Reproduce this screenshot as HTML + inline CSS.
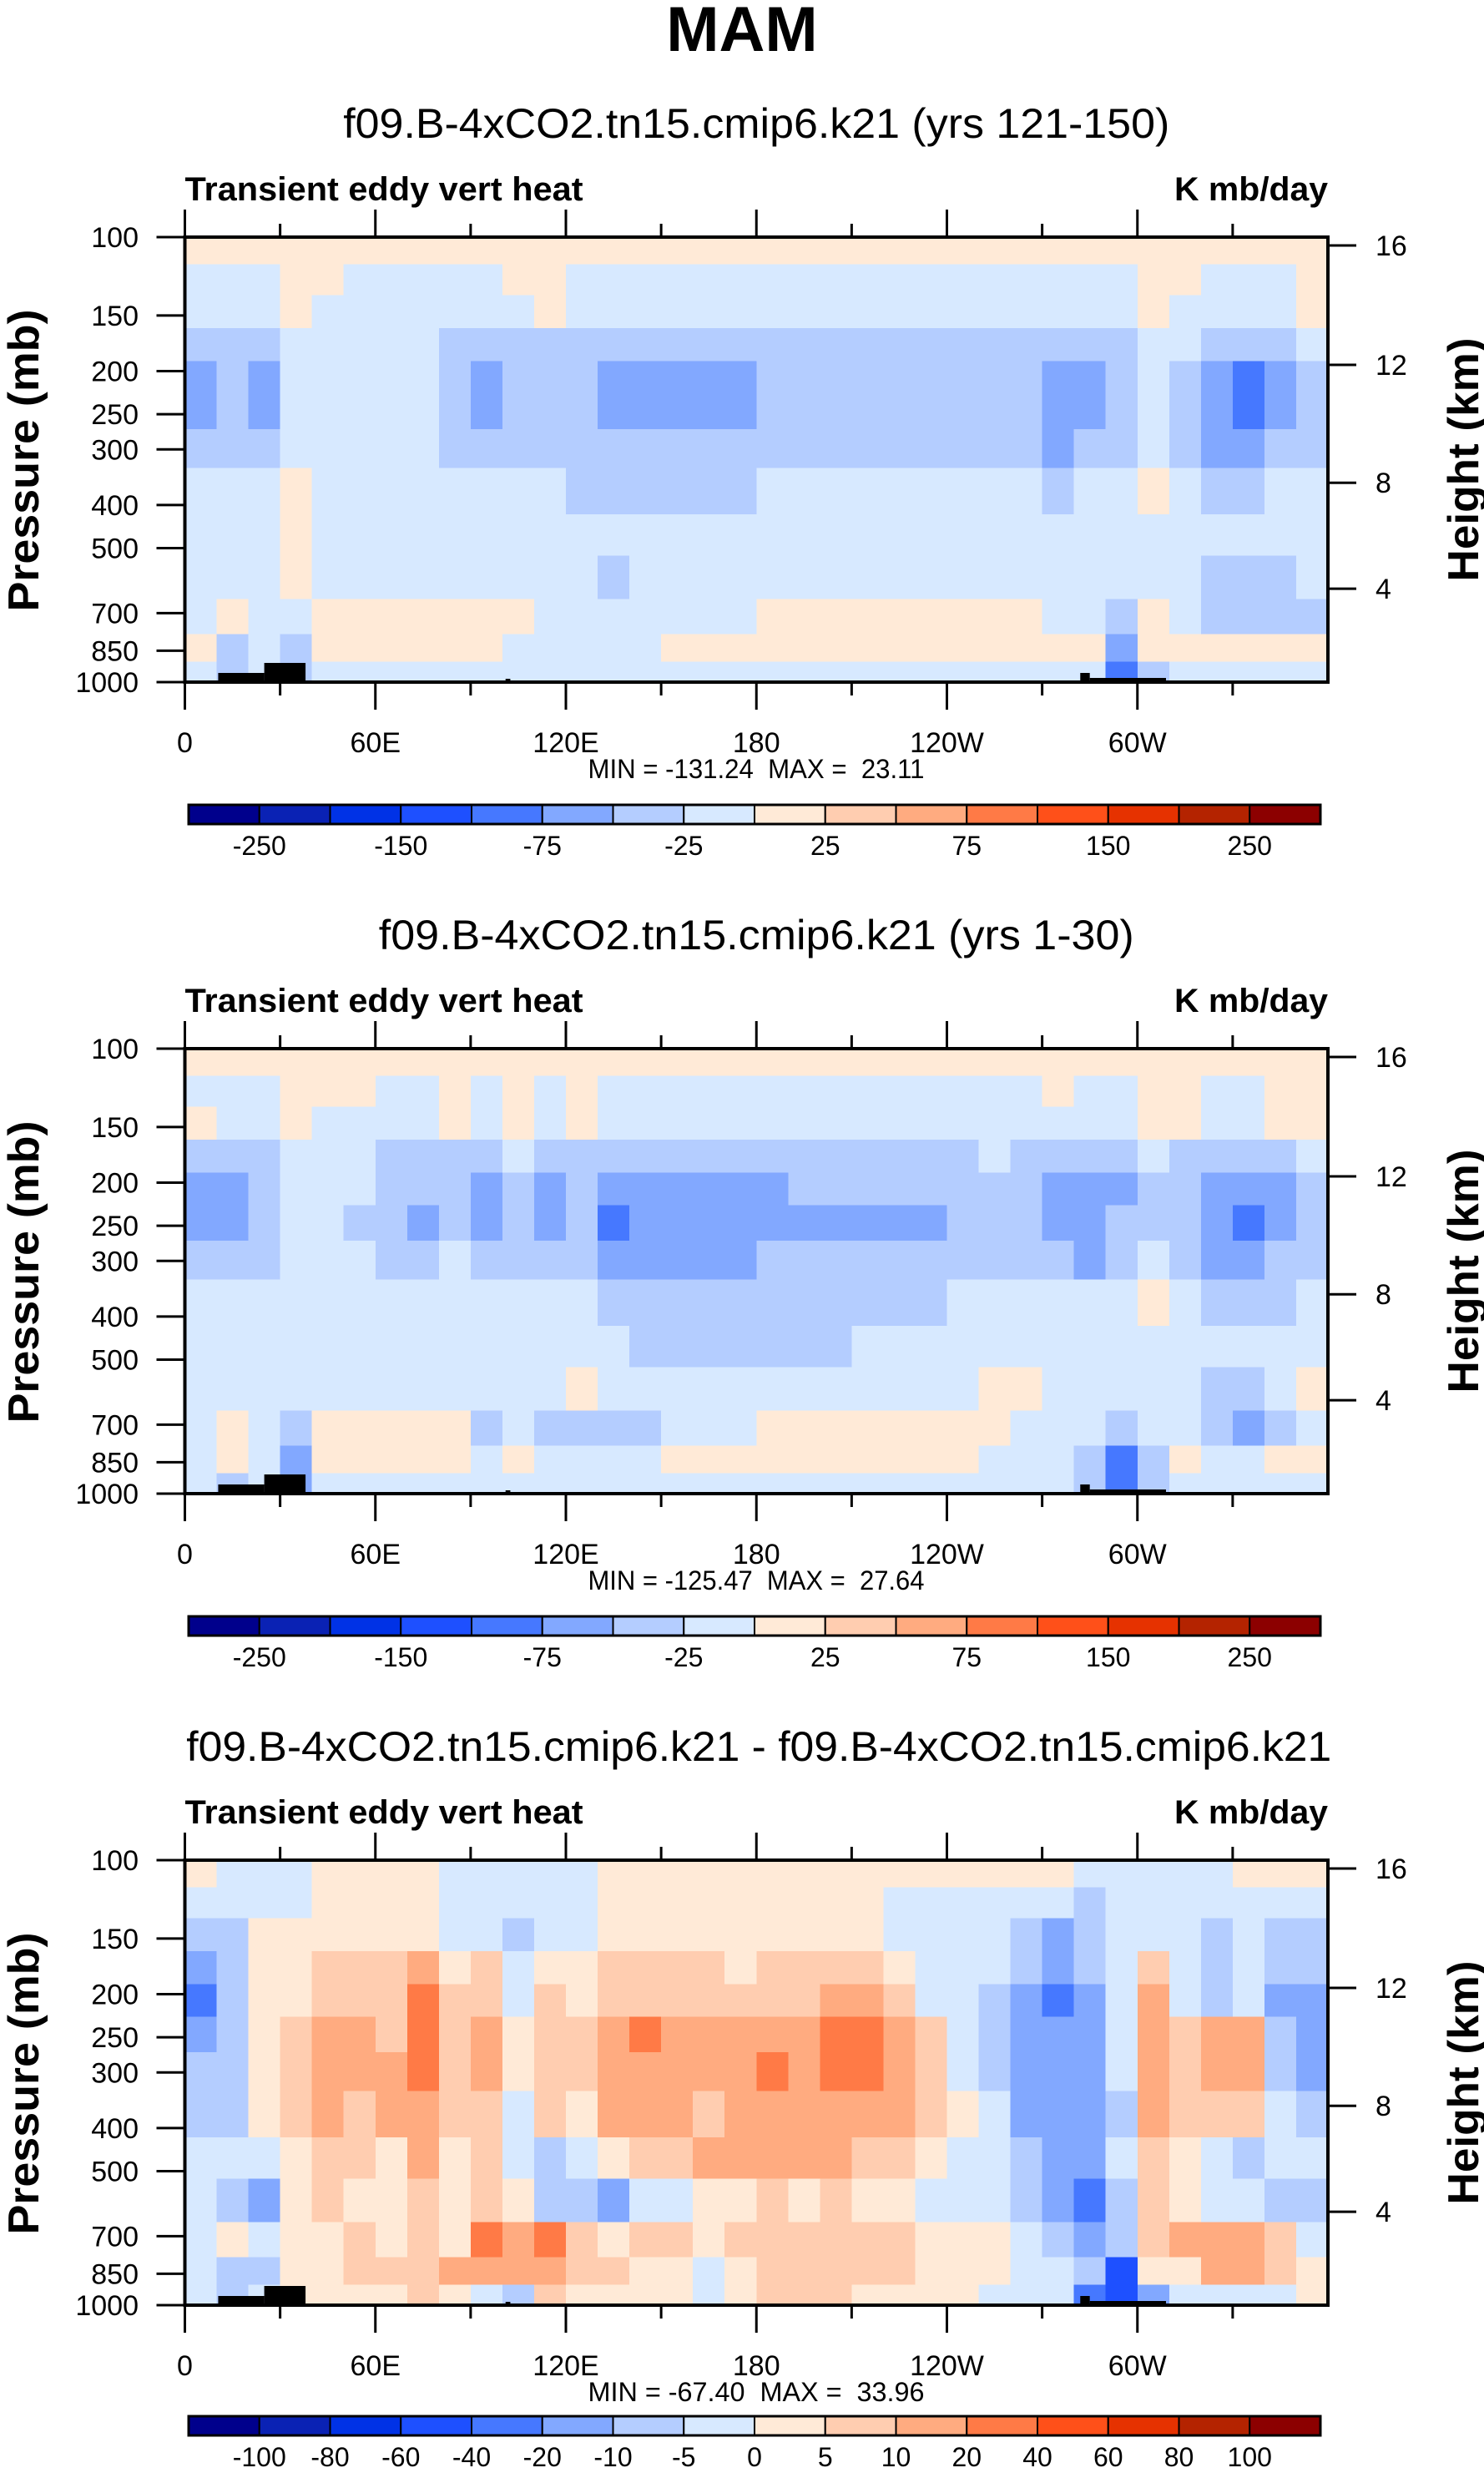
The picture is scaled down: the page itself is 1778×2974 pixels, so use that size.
<!DOCTYPE html>
<html><head><meta charset="utf-8"><title>MAM Transient eddy vert heat</title>
<style>
html,body{margin:0;padding:0;background:#fff;}
svg{display:block;font-family:"Liberation Sans",Arial,sans-serif;}
.pre{white-space:pre;}
</style></head>
<body>
<svg id="chart" xmlns="http://www.w3.org/2000/svg" width="1778" height="2974" viewBox="0 0 1778 2974">
<rect x="0" y="0" width="1778" height="2974" fill="#fff"/>
<text x="889" y="61" font-size="76" font-weight="bold" text-anchor="middle">MAM</text>
</svg>
<script>
// ---------- data ----------
const lonEdgesStep = 10; // degrees per cell
const pressureEdges = [100,115,135,160,190,225,270,330,420,520,650,780,900,1000];
const pressureTicks = [100,150,200,250,300,400,500,700,850,1000];
const heightTicks = [16,12,8,4];
const heightTickFrac = [0.0188,0.287,0.552,0.790];
const lonTicks = [0,60,120,180,240,300];
const lonTickLabels = ["0","60E","120E","180","120W","60W"];
const levelsAbs = [-250,-200,-150,-100,-75,-50,-25,0,25,50,75,100,150,200,250];
const levelsDiff = [-100,-80,-60,-40,-20,-10,-5,0,5,10,20,40,60,80,100];
const levelLabelsAbs = ["-250","-150","-75","-25","25","75","150","250"];
const levelLabelsDiff = ["-100","-80","-60","-40","-20","-10","-5","0","5","10","20","40","60","80","100"];
const palette = ["#00008c","#0a22b4","#0032e6","#1e50ff","#4678ff","#82a8ff","#b4cdff","#d7e9ff","#ffead7","#ffcdb0","#ffab80","#ff7a46","#ff5019","#e63200","#b42300","#8c0000"];
const topoLon = [10.5,25,38,101,102.5,282,285,309];
const topoTop = [1000,1000,1000,1000,1000,1000,1000,1000];
const topoHeightPx = [11,23,0,4,0,11,5,0];

const field1 = [
[10,10,10,10,10,10,10,10,10,10,10,10,10,10,10,10,10,10,10,10,10,10,10,10,10,10,10,10,10,10,10,10,10,10,10,10],
[-10,-10,-10,10,10,-10,-10,-10,-10,-10,10,10,-10,-10,-10,-10,-10,-10,-10,-10,-10,-10,-10,-10,-10,-10,-10,-10,-10,-10,10,10,-10,-10,-10,10],
[-10,-10,-10,10,-10,-10,-10,-10,-10,-10,-10,10,-10,-10,-10,-10,-10,-10,-10,-10,-10,-10,-10,-10,-10,-10,-10,-10,-10,-10,10,-10,-10,-10,-10,10],
[-35,-35,-35,-10,-10,-10,-10,-10,-35,-35,-35,-35,-35,-35,-35,-35,-35,-35,-35,-35,-35,-35,-35,-35,-35,-35,-35,-35,-35,-35,-10,-10,-35,-35,-35,-10],
[-60,-35,-60,-10,-10,-10,-10,-10,-35,-60,-35,-35,-35,-60,-60,-60,-60,-60,-35,-35,-35,-35,-35,-35,-35,-35,-35,-60,-60,-35,-10,-35,-60,-90,-60,-35],
[-60,-35,-60,-10,-10,-10,-10,-10,-35,-60,-35,-35,-35,-60,-60,-60,-60,-60,-35,-35,-35,-35,-35,-35,-35,-35,-35,-60,-60,-35,-10,-35,-60,-90,-60,-35],
[-35,-35,-35,-10,-10,-10,-10,-10,-35,-35,-35,-35,-35,-35,-35,-35,-35,-35,-35,-35,-35,-35,-35,-35,-35,-35,-35,-60,-35,-35,-10,-35,-60,-60,-35,-35],
[-10,-10,-10,10,-10,-10,-10,-10,-10,-10,-10,-10,-35,-35,-35,-35,-35,-35,-10,-10,-10,-10,-10,-10,-10,-10,-10,-35,-10,-10,10,-10,-35,-35,-10,-10],
[-10,-10,-10,10,-10,-10,-10,-10,-10,-10,-10,-10,-10,-10,-10,-10,-10,-10,-10,-10,-10,-10,-10,-10,-10,-10,-10,-10,-10,-10,-10,-10,-10,-10,-10,-10],
[-10,-10,-10,10,-10,-10,-10,-10,-10,-10,-10,-10,-10,-35,-10,-10,-10,-10,-10,-10,-10,-10,-10,-10,-10,-10,-10,-10,-10,-10,-10,-10,-35,-35,-35,-10],
[-10,10,-10,-10,10,10,10,10,10,10,10,-10,-10,-10,-10,-10,-10,-10,10,10,10,10,10,10,10,10,10,-10,-10,-35,10,-10,-35,-35,-35,-35],
[10,-35,-10,-35,10,10,10,10,10,10,-10,-10,-10,-10,-10,10,10,10,10,10,10,10,10,10,10,10,10,10,10,-60,10,10,10,10,10,10],
[-10,-35,-10,-35,-10,-10,-10,-10,-10,-10,-10,-10,-10,-10,-10,-10,-10,-10,-10,-10,-10,-10,-10,-10,-10,-10,-10,-10,-10,-90,-35,-10,-10,-10,-10,-10]
];
const field2 = [
[10,10,10,10,10,10,10,10,10,10,10,10,10,10,10,10,10,10,10,10,10,10,10,10,10,10,10,10,10,10,10,10,10,10,10,10],
[-10,-10,-10,10,10,10,-10,-10,10,-10,10,-10,10,-10,-10,-10,-10,-10,-10,-10,-10,-10,-10,-10,-10,-10,-10,10,-10,-10,10,10,-10,-10,10,10],
[10,-10,-10,10,-10,-10,-10,-10,10,-10,10,-10,10,-10,-10,-10,-10,-10,-10,-10,-10,-10,-10,-10,-10,-10,-10,-10,-10,-10,10,10,-10,-10,10,10],
[-35,-35,-35,-10,-10,-10,-35,-35,-35,-35,-10,-35,-35,-35,-35,-35,-35,-35,-35,-35,-35,-35,-35,-35,-35,-10,-35,-35,-35,-35,-10,-35,-35,-35,-35,-10],
[-60,-60,-35,-10,-10,-10,-35,-35,-35,-60,-35,-60,-35,-60,-60,-60,-60,-60,-60,-35,-35,-35,-35,-35,-35,-35,-35,-60,-60,-60,-35,-35,-60,-60,-60,-35],
[-60,-60,-35,-10,-10,-35,-35,-60,-35,-60,-35,-60,-35,-90,-60,-60,-60,-60,-60,-60,-60,-60,-60,-60,-35,-35,-35,-60,-60,-35,-35,-35,-60,-90,-60,-35],
[-35,-35,-35,-10,-10,-10,-35,-35,-10,-35,-35,-35,-35,-60,-60,-60,-60,-60,-35,-35,-35,-35,-35,-35,-35,-35,-35,-35,-60,-35,-10,-35,-60,-60,-35,-35],
[-10,-10,-10,-10,-10,-10,-10,-10,-10,-10,-10,-10,-10,-35,-35,-35,-35,-35,-35,-35,-35,-35,-35,-35,-10,-10,-10,-10,-10,-10,10,-10,-35,-35,-35,-10],
[-10,-10,-10,-10,-10,-10,-10,-10,-10,-10,-10,-10,-10,-10,-35,-35,-35,-35,-35,-35,-35,-10,-10,-10,-10,-10,-10,-10,-10,-10,-10,-10,-10,-10,-10,-10],
[-10,-10,-10,-10,-10,-10,-10,-10,-10,-10,-10,-10,10,-10,-10,-10,-10,-10,-10,-10,-10,-10,-10,-10,-10,10,10,-10,-10,-10,-10,-10,-35,-35,-10,10],
[-10,10,-10,-35,10,10,10,10,10,-35,-10,-35,-35,-35,-35,-10,-10,-10,10,10,10,10,10,10,10,10,-10,-10,-10,-35,-10,-10,-35,-60,-35,-10],
[-10,10,-10,-60,10,10,10,10,10,-10,10,-10,-10,-10,-10,10,10,10,10,10,10,10,10,10,10,-10,-10,-10,-35,-90,-35,10,-10,-10,10,10],
[-10,-35,-10,-60,-10,-10,-10,-10,-10,-10,-10,-10,-10,-10,-10,-10,-10,-10,-10,-10,-10,-10,-10,-10,-10,-10,-10,-10,-35,-90,-35,-10,-10,-10,-10,-10]
];
const field3 = [
[2,-2,-2,-2,2,2,2,2,-2,-2,-2,-2,-2,2,2,2,2,2,2,2,2,2,2,2,2,2,2,2,-2,-2,-2,-2,-2,2,2,2],
[-2,-2,-2,-2,2,2,2,2,-2,-2,-2,-2,-2,2,2,2,2,2,2,2,2,2,-2,-2,-2,-2,-2,-2,-7,-2,-2,-2,-2,-2,-2,-2],
[-7,-7,2,2,2,2,2,2,-2,-2,-7,-2,-2,2,2,2,2,2,2,2,2,2,-2,-2,-2,-2,-7,-15,-7,-2,-2,-2,-7,-2,-7,-7],
[-15,-7,2,2,7,7,7,15,2,7,-2,2,2,7,7,7,7,2,7,7,7,7,2,-2,-2,-2,-7,-15,-7,-2,7,-2,-7,-2,-7,-7],
[-30,-7,2,2,7,7,7,30,7,7,-2,7,2,7,7,7,7,7,7,7,15,15,7,-2,-2,-7,-15,-30,-15,-2,15,-2,-7,-2,-15,-15],
[-15,-7,2,7,15,15,7,30,7,15,2,7,7,15,30,15,15,15,15,15,30,30,15,7,-2,-7,-15,-15,-15,-2,15,7,15,15,-7,-15],
[-7,-7,2,7,15,15,15,30,7,15,2,7,7,15,15,15,15,15,30,15,30,30,15,7,-2,-7,-15,-15,-15,-2,15,7,15,15,-7,-15],
[-7,-7,2,7,15,7,15,15,7,7,-2,7,2,15,15,15,7,15,15,15,15,15,15,7,2,-2,-15,-15,-15,-7,15,7,7,7,-2,-7],
[-2,-2,-2,2,7,7,2,15,2,7,-2,-7,-2,2,7,7,15,15,15,15,15,7,7,2,-2,-2,-7,-15,-15,-2,7,2,-2,-7,-2,-2],
[-2,-7,-15,2,7,2,2,7,2,7,2,-7,-7,-15,-2,-2,2,2,7,2,7,2,2,-2,-2,-2,-7,-15,-30,-7,7,2,-2,-2,-7,-7],
[-2,2,-2,2,2,7,2,7,2,30,15,30,7,2,7,7,2,7,7,7,7,7,7,2,2,2,-2,-7,-15,-7,7,15,15,15,7,-2],
[-2,-7,-7,2,2,7,7,7,15,15,15,15,7,7,2,2,-2,2,7,7,7,7,7,2,2,2,-2,-2,-7,-50,2,2,15,15,7,2],
[-2,-7,-2,2,2,2,2,7,2,-2,-7,7,2,2,2,2,-2,2,7,7,7,2,2,2,2,-2,-2,-2,-30,-50,-15,-2,-2,-2,-2,2]
];
const panelTitles = ["f09.B-4xCO2.tn15.cmip6.k21 (yrs 121-150)","f09.B-4xCO2.tn15.cmip6.k21 (yrs 1-30)","f09.B-4xCO2.tn15.cmip6.k21 - f09.B-4xCO2.tn15.cmip6.k21"];
const panelTitleWidths = [990,905,1372];
const minValues = ["-131.24","-125.47","-67.40"];
const maxValues = ["23.11","27.64","33.96"];
const colorbarGap = [147,147,133];

// ---------- layout ----------
const NS = "http://www.w3.org/2000/svg";
const svg = document.getElementById("chart");
const PL = 221.5, PR = 1591, PH = 533;
const panelTops = [284, 1256, 2228];

function mk(tag, attrs, parent) {
  const el = document.createElementNS(NS, tag);
  for (const k in attrs) el.setAttribute(k, attrs[k]);
  (parent || svg).appendChild(el);
  return el;
}
function txt(str, attrs, parent) {
  const t = mk("text", attrs, parent);
  t.textContent = str;
  return t;
}
function colorFor(v, levels) {
  let i = 0;
  for (const l of levels) if (v >= l) i++;
  return palette[i];
}

function drawPanel(pi, field, levels, labels, labelIdx) {
  const T = panelTops[pi], B = T + PH;
  const xOf = lon => PL + (PR - PL) * lon / 360;
  const yOf = p => T + PH * Math.log10(p / 100);
  const g = mk("g", {});
  
  

  const st = txt(panelTitles[pi], {x: (PL + PR) / 2 + (pi === 2 ? 3 : 0), y: T - 119, "font-size": 50, "text-anchor": "middle", textLength: panelTitleWidths[pi], lengthAdjust: "spacingAndGlyphs"}, g);
  
  
  const lt = txt("Transient eddy vert heat", {x: PL, y: T - 44, "font-size": 40, "font-weight": "bold", textLength: 477, lengthAdjust: "spacingAndGlyphs"}, g);
  
  
  const ut = txt("K mb/day", {x: PR, y: T - 44, "font-size": 40, "font-weight": "bold", "text-anchor": "end", textLength: 184, lengthAdjust: "spacingAndGlyphs"}, g);
  
  

  const cg = mk("g", {"shape-rendering": "crispEdges"}, g);
  
  
  for (let r = 0; r < field.length; r++) {
    const y0 = yOf(pressureEdges[r]), y1 = yOf(pressureEdges[r + 1]);
    for (let c = 0; c < field[r].length; c++) {
      const x0 = xOf(c * lonEdgesStep), x1 = xOf((c + 1) * lonEdgesStep);
      const cell = mk("rect", {x: x0, y: y0, width: x1 - x0 + 0.6, height: y1 - y0 + 0.6, fill: colorFor(field[r][c], levels)}, cg);
      
      
    }
  }
  for (let i = 0; i < topoLon.length - 1; i++) {
    if (topoHeightPx[i] <= 0) continue;
    const x0 = xOf(topoLon[i]), x1 = xOf(topoLon[i + 1]);
    const tp = mk("rect", {x: x0, y: yOf(topoTop[i]) - topoHeightPx[i], width: x1 - x0, height: topoHeightPx[i], fill: "#000"}, g);
    
    
  }
  const fr = mk("rect", {x: PL, y: T, width: PR - PL, height: PH, fill: "none", stroke: "#000", "stroke-width": 4}, g);
  
  

  for (let lon = 0; lon < 360; lon += 30) {
    const x = xOf(lon), len = lon % 60 === 0 ? 33 : 16;
    const t1 = mk("line", {x1: x, x2: x, y1: T, y2: T - len, stroke: "#000", "stroke-width": 3}, g);
    
    
    const t2 = mk("line", {x1: x, x2: x, y1: B, y2: B + len, stroke: "#000", "stroke-width": 3}, g);
    
    
  }
  lonTicks.forEach((lon, i) => {
    const l = txt(lonTickLabels[i], {x: xOf(lon), y: B + 84, "font-size": 34, "text-anchor": "middle"}, g);
    
    
  });
  pressureTicks.forEach(p => {
    const y = yOf(p);
    const tk = mk("line", {x1: PL, x2: PL - 34, y1: y, y2: y, stroke: "#000", "stroke-width": 3}, g);
    
    
    const l = txt(String(p), {x: 166, y: y + 12, "font-size": 34, "text-anchor": "end"}, g);
    
    
  });
  heightTicks.forEach((h, i) => {
    const y = T + PH * heightTickFrac[i];
    const tk = mk("line", {x1: PR, x2: PR + 34, y1: y, y2: y, stroke: "#000", "stroke-width": 3}, g);
    
    
    const l = txt(String(h), {x: 1648, y: y + 12, "font-size": 34}, g);
    
    
  });
  const cy = T + PH / 2;
  const pt = txt("Pressure (mb)", {x: 0, y: 0, "font-size": 52, "font-weight": "bold", "text-anchor": "middle", textLength: 362, lengthAdjust: "spacingAndGlyphs", transform: "translate(46," + (cy + 1) + ") rotate(-90)"}, g);
  
  
  const ht = txt("Height (km)", {x: 0, y: 0, "font-size": 52, "font-weight": "bold", "text-anchor": "middle", textLength: 292, lengthAdjust: "spacingAndGlyphs", transform: "translate(1771," + cy + ") rotate(-90)"}, g);
  
  

  const mm = txt("MIN = " + minValues[pi] + "  MAX =  " + maxValues[pi], {x: 906, y: B + 115, "font-size": 32, "text-anchor": "middle", textLength: 403, lengthAdjust: "spacingAndGlyphs", "class": "pre"}, g);
  
  

  const cbL = 226, cbR = 1582, cbT = B + colorbarGap[pi], cbH = 23;
  const bw = (cbR - cbL) / palette.length;
  const cb = mk("g", {}, g);
  
  
  palette.forEach((col, i) => {
    const r = mk("rect", {x: cbL + i * bw, y: cbT, width: bw, height: cbH, fill: col, stroke: "#000", "stroke-width": 2}, cb);
    
    
  });
  const cbf = mk("rect", {x: cbL, y: cbT, width: cbR - cbL, height: cbH, fill: "none", stroke: "#000", "stroke-width": 3}, cb);
  
  
  labels.forEach((lab, i) => {
    const k = labelIdx[i];
    const l = txt(lab, {x: cbL + k * bw, y: cbT + 60, "font-size": 32, "text-anchor": "middle"}, cb);
    
    
  });
}

drawPanel(0, field1, levelsAbs, levelLabelsAbs, [1,3,5,7,9,11,13,15]);
drawPanel(1, field2, levelsAbs, levelLabelsAbs, [1,3,5,7,9,11,13,15]);
drawPanel(2, field3, levelsDiff, levelLabelsDiff, [1,2,3,4,5,6,7,8,9,10,11,12,13,14,15]);
</script>
</body></html>
